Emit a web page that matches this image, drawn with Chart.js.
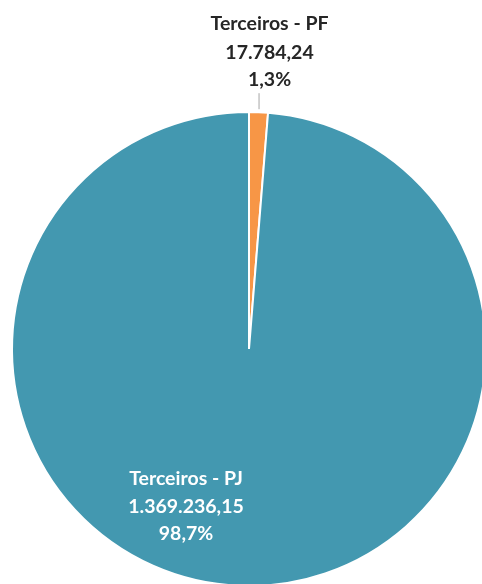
<!DOCTYPE html>
<html>
<head>
<meta charset="utf-8">
<script src="https://cdn.jsdelivr.net/npm/chart.js@4"></script>
<style>
  html, body { margin: 0; padding: 0; background: #fff; }
  #wrap { position: relative; width: 482px; height: 584px; overflow: hidden; }
  #wrap canvas { position: absolute; left: 0; top: 0; }
</style>
</head>
<body>
<div id="wrap"><canvas id="pieChart" width="520" height="700"></canvas></div>
<script>
const categories = ["Terceiros - PF", "Terceiros - PJ"];
const values = [17784.24, 1369236.15];
const valueLabels = ["17.784,24", "1.369.236,15"];
const percentLabels = ["1,3%", "98,7%"];
const colors = ["#F79646", "#4398B0"];

const labelFont = "bold 19.5px Lato";

// desenha os rótulos no estilo do Excel
const pieLabels = {
    id: "pieLabels",
    afterDraw(chart) {
        const ctx = chart.ctx;
        const arcs = chart.getDatasetMeta(0).data;
        ctx.save();
        ctx.font = labelFont;
        ctx.textAlign = "center";
        ctx.textBaseline = "middle";

        // fatia PF: rótulo fora, com linha guia
        const pf = arcs[0].getProps(["x", "y", "startAngle", "endAngle", "outerRadius"], true);
        const mid = (pf.startAngle + pf.endAngle) / 2;
        const ax = pf.x + Math.cos(mid) * pf.outerRadius;
        const ay = pf.y + Math.sin(mid) * pf.outerRadius;
        ctx.strokeStyle = "#A6A6A6";
        ctx.lineWidth = 1;
        ctx.beginPath();
        ctx.moveTo(ax + 0.5, ay - 3);
        ctx.lineTo(ax + 0.5, ay - 19);
        ctx.stroke();
        ctx.fillStyle = "#262626";
        const lx = ax + 11;
        ctx.fillText(categories[0], lx, ay - 88);
        ctx.fillText(valueLabels[0], lx, ay - 59);
        ctx.fillText(percentLabels[0], lx, ay - 32);

        // fatia PJ: rótulo dentro, em branco
        const pj = arcs[1].getProps(["x", "y", "outerRadius"], true);
        const px = pj.x - 63;
        const py = pj.y + pj.outerRadius * 0.665;
        ctx.fillStyle = "#FFFFFF";
        ctx.fillText(categories[1], px, py - 28);
        ctx.fillText(valueLabels[1], px, py);
        ctx.fillText(percentLabels[1], px, py + 27);
        ctx.restore();
    }
};

new Chart(document.getElementById("pieChart"), {
    type: "pie",
    data: {
        labels: categories,
        datasets: [{
            data: values,
            backgroundColor: colors,
            borderColor: "#FFFFFF",
            borderWidth: 2
        }]
    },
    options: {
        responsive: false,
        animation: false,
        layout: { padding: { left: 11, right: 33, top: 111, bottom: 113 } },
        plugins: {
            legend: { display: false },
            tooltip: { enabled: false }
        }
    },
    plugins: [pieLabels]
});
</script>
</body>
</html>
